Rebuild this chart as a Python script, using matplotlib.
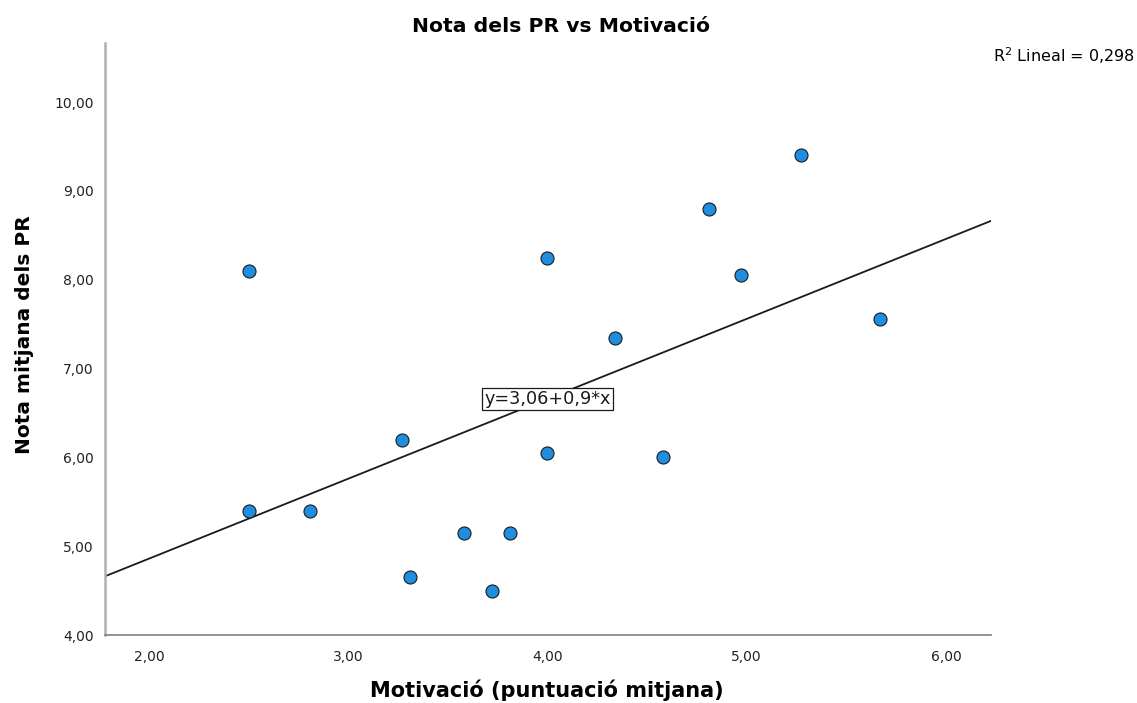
import matplotlib.pyplot as plt
import numpy as np

# Motivació (puntuació mitjana) vs Nota mitjana dels PR
motivacio = [2.50, 4.00, 3.27, 4.00, 2.50, 2.81, 3.58, 3.81, 3.31, 3.72,
             5.27, 4.81, 4.97, 5.67, 4.34, 4.58]
nota_pr = [8.10, 8.25, 6.20, 6.05, 5.40, 5.40, 5.15, 5.15, 4.65, 4.50,
           9.40, 8.80, 8.05, 7.56, 7.35, 6.00]

intercept = 3.06
slope = 0.9
r2 = 0.298

x_ticks = [2, 3, 4, 5, 6]
y_ticks = [4, 5, 6, 7, 8, 9, 10]

fig = plt.figure(figsize=(11.37, 7.03), dpi=100)
ax = fig.add_axes([0.0923, 0.0967, 0.7793, 0.8426])

xmin, xmax = 1.779, 6.226
ax.set_xlim(xmin, xmax)
ax.set_ylim(4.0, 10.67)

# regression line across the full x range
xs = np.array([xmin, xmax])
ax.plot(xs, intercept + slope * xs, color='#1a1a1a', lw=1.3, zorder=2)

ax.scatter(motivacio, nota_pr, s=88, color='#1f8ee0', edgecolors='#1a1a1a',
           linewidths=0.8, zorder=3)

x_mid = 4.0
ax.text(x_mid, intercept + slope * x_mid, 'y=3,06+0,9*x', ha='center', va='center',
        fontsize=12.7, color='#1a1a1a', zorder=4,
        bbox=dict(boxstyle='square,pad=0.12', fc='white', ec='#1a1a1a', lw=0.9))

ax.set_xticks(x_ticks)
ax.set_yticks(y_ticks)
ax.set_xticklabels([f'{v:.2f}'.replace('.', ',') for v in x_ticks])
ax.set_yticklabels([f'{v:.2f}'.replace('.', ',') for v in y_ticks])
ax.tick_params(length=0, labelsize=10, colors='#222222')
ax.tick_params(axis='x', pad=11)
ax.tick_params(axis='y', pad=8)

for side in ['top', 'right']:
    ax.spines[side].set_visible(False)
ax.spines['left'].set_color('#b0b0b0')
ax.spines['left'].set_linewidth(1.8)
ax.spines['bottom'].set_color('#808080')
ax.spines['bottom'].set_linewidth(1.2)

fig.text(561 / 1137, 1 - 27 / 703, 'Nota dels PR vs Motivació', ha='center', va='center',
         fontsize=14.7, fontweight='bold')
fig.text(547 / 1137, 1 - 690 / 703, 'Motivació (puntuació mitjana)', ha='center',
         va='center', fontsize=15, fontweight='bold')
fig.text(25 / 1137, 1 - 335 / 703, 'Nota mitjana dels PR', ha='center', va='center',
         rotation=90, fontsize=14.5, fontweight='bold')
fig.text(1135 / 1137, 1 - 56 / 703, 'R$^2$ Lineal = ' + f'{r2:.3f}'.replace('.', ','),
         ha='right', va='center', fontsize=11.5)

fig.savefig('out.png', dpi=100)
